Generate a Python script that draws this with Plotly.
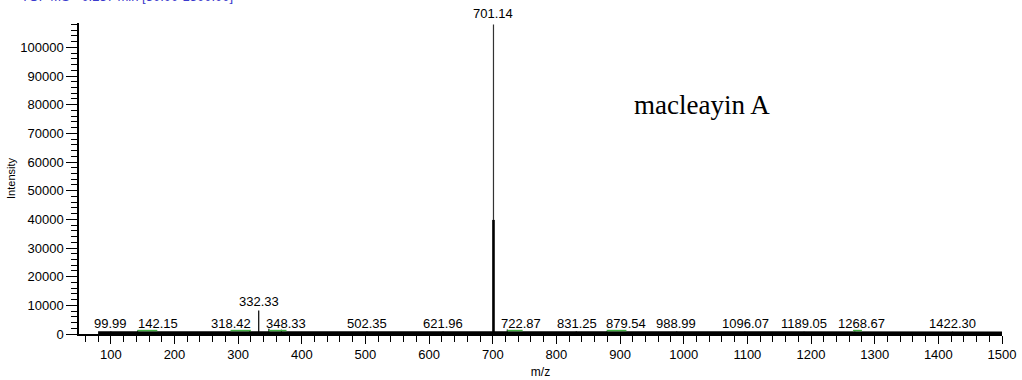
import plotly.graph_objects as go

# ---- data ----
peak_mz = [99.99, 142.15, 318.42, 332.33, 348.33, 368.0, 502.35, 621.96, 722.87,
           831.25, 879.54, 988.99, 1096.07, 1189.05, 1268.67, 1422.30]
peak_int = [900, 1200, 1100, 8200, 1800, 1500, 900, 900, 1600,
            900, 1000, 900, 800, 800, 900, 800]
main_mz = 701.14
main_int = 108000
main_core_int = 39800

baseline_mz = [80, 200, 400, 600, 800, 1000, 1200, 1400, 1500]
baseline_int = [450, 450, 420, 420, 400, 400, 380, 380, 380]

label_text = ["99.99", "142.15", "318.42", "348.33", "502.35", "621.96", "722.87",
              "831.25", "879.54", "988.99", "1096.07", "1189.05", "1268.67", "1422.30"]
label_mz = [100, 174, 288, 375, 502, 622, 744, 832, 909, 988, 1097, 1189, 1279, 1422]

green_segments = [(142, 173), (288, 320), (348, 376), (723, 747), (879, 910), (1266, 1280)]

fig = go.Figure()

# baseline (thick noisy trace)
fig.add_trace(go.Scatter(x=baseline_mz, y=baseline_int, mode="lines",
                         line=dict(color="black", width=3), hoverinfo="skip"))

# stick peaks
xs, ys = [], []
for m, i in zip(peak_mz, peak_int):
    xs += [m, m, None]
    ys += [0, i, None]
fig.add_trace(go.Scatter(x=xs, y=ys, mode="lines", line=dict(color="black", width=1.2),
                         hoverinfo="skip"))

# main peak: thin tall part and thick core
fig.add_trace(go.Scatter(x=[main_mz, main_mz], y=[0, main_int], mode="lines",
                         line=dict(color="#333333", width=1.2), hoverinfo="skip"))
fig.add_trace(go.Scatter(x=[main_mz, main_mz], y=[0, main_core_int], mode="lines",
                         line=dict(color="black", width=2.6), hoverinfo="skip"))

# green marker segments
gx, gy = [], []
for a, b in green_segments:
    gx += [a, b, None]
    gy += [1200, 1200, None]
fig.add_trace(go.Scatter(x=gx, y=gy, mode="lines", line=dict(color="#44b044", width=1.5),
                         hoverinfo="skip"))

font = dict(family="Liberation Sans, Arial, sans-serif", size=13, color="black")

for t, m in zip(label_text, label_mz):
    fig.add_annotation(x=m, y=0, text=t, showarrow=False, yanchor="bottom",
                       yshift=1, font=font)
fig.add_annotation(x=332.33, y=8200, text="332.33", showarrow=False, yanchor="bottom",
                   yshift=0, font=font)
fig.add_annotation(x=main_mz, y=main_int, text="701.14", showarrow=False,
                   yanchor="bottom", yshift=1, font=font)

fig.add_annotation(x=1029, y=80000, text="macleayin A", showarrow=False,
                   font=dict(family="Liberation Serif, Times New Roman, serif", size=27,
                             color="black"))

fig.add_annotation(xref="paper", yref="paper", x=-0.077, y=1.0, yshift=27,
                   xanchor="left", yanchor="middle",
                   text="+ TOF MS - 0.237 min [50.00-1500.00]", showarrow=False,
                   font=dict(family="Liberation Sans, Arial, sans-serif", size=13,
                             color="#3a3acc"))

fig.update_layout(
    width=1022, height=380,
    margin=dict(l=79, r=20, t=23, b=46),
    plot_bgcolor="white", paper_bgcolor="white",
    showlegend=False,
    font=font,
    xaxis=dict(range=[50, 1500], tickvals=list(range(100, 1501, 100)),
               automargin=False,
               showgrid=False, zeroline=False, showline=True, linecolor="black",
               linewidth=1.5, ticks="outside", ticklen=8, tickcolor="black",
               minor=dict(dtick=20, tick0=0, ticks="outside", ticklen=6, tickcolor="black"),
               title=dict(text="m/z", font=dict(size=12), standoff=6),
               tickfont=font),
    yaxis=dict(range=[0, 108500], tickvals=list(range(0, 100001, 10000)),
               tickformat="d", automargin=False,
               showgrid=False, zeroline=False, showline=True, linecolor="black",
               linewidth=1.5, ticks="outside", ticklen=11, tickcolor="black",
               minor=dict(dtick=2000, tick0=0, ticks="outside", ticklen=6, tickcolor="black"),
               title=dict(text="Intensity", font=dict(size=11), standoff=2),
               tickfont=font),
)

fig.write_html("out.html")
